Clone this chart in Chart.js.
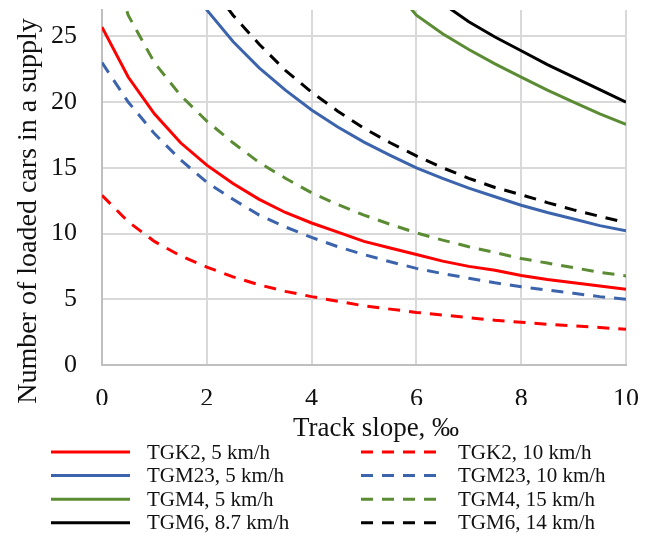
<!DOCTYPE html>
<html>
<head>
<meta charset="utf-8">
<script src="https://cdn.jsdelivr.net/npm/chart.js@4"></script>
<style>
  html, body { margin: 0; padding: 0; background: #fff; }
  #wrap { width: 648px; height: 538px; }
</style>
</head>
<body>
<div id="wrap"><canvas id="chart"></canvas></div>
<script>
// ---- data ----
const slope = [0, 0.5, 1, 1.5, 2, 2.5, 3, 3.5, 4, 4.5, 5, 5.5, 6, 6.5, 7, 7.5, 8, 8.5, 9, 9.5, 10];

const tgk2_5   = [25.7, 21.9, 19.1, 16.9, 15.2, 13.8, 12.6, 11.6, 10.8, 10.1, 9.4, 8.9, 8.4, 7.9, 7.5, 7.2, 6.8, 6.5, 6.25, 6.0, 5.76];
const tgm23_5  = [51, 42, 36, 30.5, 27.0, 24.6, 22.6, 20.9, 19.4, 18.1, 16.95, 15.95, 15.0, 14.2, 13.45, 12.8, 12.15, 11.6, 11.1, 10.6, 10.2];
const tgm4_5   = [98, 80, 68, 59, 52, 46.5, 42, 38.5, 35.5, 33, 30.8, 29.0, 26.6, 25.2, 24.0, 22.9, 21.9, 20.9, 20.0, 19.1, 18.3];
const tgm6_87  = [108, 88, 75, 65, 57, 51, 46, 42, 39, 36, 33.6, 31.3, 29.1, 27.5, 26.1, 24.95, 23.9, 22.85, 21.9, 20.95, 20.0];
const tgk2_10  = [12.9, 10.9, 9.4, 8.3, 7.45, 6.7, 6.1, 5.6, 5.2, 4.85, 4.5, 4.25, 4.0, 3.8, 3.6, 3.4, 3.25, 3.1, 2.98, 2.85, 2.72];
const tgm23_10 = [23.0, 20.0, 17.6, 15.6, 13.9, 12.6, 11.4, 10.5, 9.7, 9.0, 8.4, 7.85, 7.35, 6.95, 6.6, 6.25, 5.95, 5.7, 5.45, 5.2, 5.0];
const tgm4_15  = [33, 26.6, 23.0, 20.5, 18.55, 16.9, 15.4, 14.2, 13.1, 12.2, 11.4, 10.7, 10.05, 9.5, 9.0, 8.55, 8.1, 7.75, 7.4, 7.05, 6.77];
const tgm6_14  = [54, 45, 38.6, 33.6, 29.3, 26.6, 24.4, 22.4, 20.75, 19.3, 18.0, 16.9, 15.9, 15.0, 14.2, 13.5, 12.95, 12.35, 11.8, 11.3, 10.83];

const seriesNames = [
  "TGK2, 5 km/h", "TGM23, 5 km/h", "TGM4, 5 km/h", "TGM6, 8.7 km/h",
  "TGK2, 10 km/h", "TGM23, 10 km/h", "TGM4, 15 km/h", "TGM6, 14 km/h"
];
const seriesValues = [tgk2_5, tgm23_5, tgm4_5, tgm6_87, tgk2_10, tgm23_10, tgm4_15, tgm6_14];

const yTicks = [0, 5, 10, 15, 20, 25];
const xTitle = "Track slope, ‰";
const yTitle = "Number of loaded cars in a supply";

// ---- styles ----
const FONT = "'Liberation Serif', 'Times New Roman', serif";
const colors = ["#ff0000", "#3c64ac", "#5b8c34", "#000000"];
const DASH = [12, 9];

const datasets = seriesValues.map((vals, i) => ({
  label: seriesNames[i],
  data: slope.map((x, j) => ({ x: x, y: vals[j] })),
  borderColor: colors[i % 4],
  borderWidth: 3,
  borderDash: i >= 4 ? DASH : [],
  borderCapStyle: "butt",
  pointRadius: 0,
  tension: 0,
  fill: false
}));

// titles + two-column legend drawn on the canvas
const extrasPlugin = {
  id: "extras",
  afterDraw(chart) {
    const ctx = chart.ctx;
    ctx.save();
    ctx.fillStyle = "#111";

    // y title
    ctx.font = "28px " + FONT;
    ctx.translate(36, 211);
    ctx.rotate(-Math.PI / 2);
    ctx.textAlign = "center";
    ctx.textBaseline = "alphabetic";
    ctx.fillText(yTitle, 0, 0);
    ctx.setTransform(1, 0, 0, 1, 0, 0);

    // x title
    ctx.font = "27px " + FONT;
    ctx.fillText(xTitle, 376, 436);

    // legend
    ctx.font = "21px " + FONT;
    ctx.textAlign = "left";
    ctx.textBaseline = "middle";
    const colLine = [[51, 130], [361, 437]];
    const colText = [147, 458];
    chart.data.datasets.forEach((ds, i) => {
      const col = Math.floor(i / 4);
      const row = i % 4;
      const y = 452 + row * 23.6;
      ctx.beginPath();
      ctx.lineWidth = 3;
      ctx.strokeStyle = ds.borderColor;
      ctx.setLineDash(ds.borderDash);
      ctx.moveTo(colLine[col][0], y);
      ctx.lineTo(colLine[col][1], y);
      ctx.stroke();
      ctx.setLineDash([]);
      ctx.fillText(ds.label, colText[col], y + 1);
    });
    ctx.restore();
  }
};

new Chart(document.getElementById("chart").getContext("2d"), {
  type: "line",
  data: { datasets: datasets },
  options: {
    responsive: true,
    maintainAspectRatio: false,
    animation: false,
    layout: { padding: { left: 0, right: 22, top: 10, bottom: 133 } },
    plugins: {
      legend: { display: false },
      tooltip: { enabled: false }
    },
    scales: {
      x: {
        type: "linear",
        min: 0,
        max: 10,
        ticks: { stepSize: 2, padding: 19, color: "#111", font: { family: FONT, size: 26 } },
        grid: { color: "#d9d9d9", lineWidth: 2, drawTicks: false },
        border: { color: "#bfbfbf", width: 2 },
        afterFit(scale) {
          scale.height = 40;
          scale.paddingLeft = 0;
          scale.paddingRight = 0;
        }
      },
      y: {
        type: "linear",
        min: 0,
        max: 27,
        afterBuildTicks(scale) {
          scale.ticks = yTicks.map(v => ({ value: v }));
        },
        ticks: { padding: 25, color: "#111", font: { family: FONT, size: 26 } },
        grid: { color: "#d9d9d9", lineWidth: 2, drawTicks: false },
        border: { color: "#bfbfbf", width: 2 },
        afterFit(scale) {
          scale.width = 102;
          scale.paddingTop = 0;
          scale.paddingBottom = 0;
        }
      }
    }
  },
  plugins: [extrasPlugin]
});
</script>
</body>
</html>
